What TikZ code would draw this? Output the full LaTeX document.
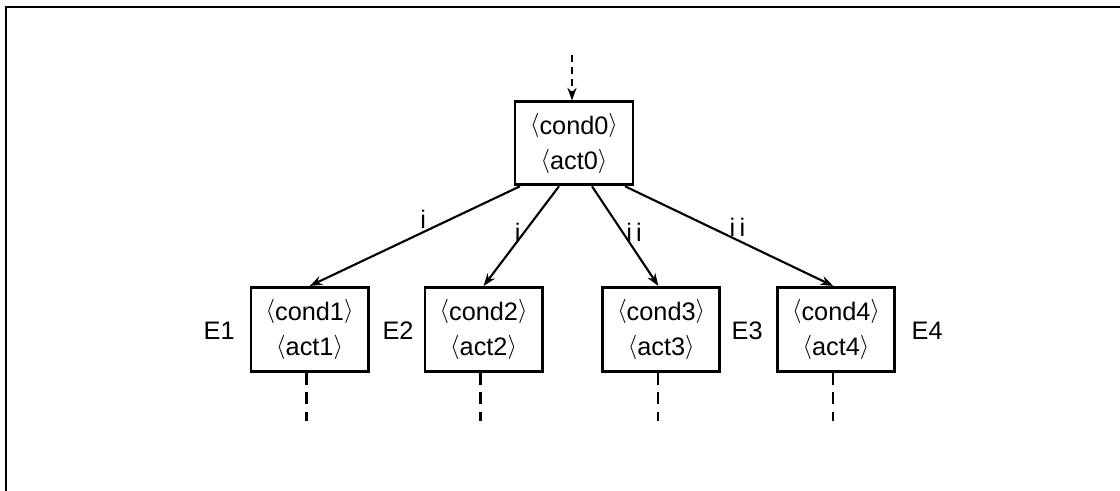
\documentclass[tikz,border=0pt]{standalone}
\usepackage{fontspec}
\setmainfont{Liberation Sans}
\usetikzlibrary{arrows.meta}
\newcommand{\ang}[1]{\raisebox{.1em}{$\langle$}#1\raisebox{.1em}{$\rangle$}}
\tikzset{
	rulebox/.style={draw,line width=2pt,minimum width=2.93cm,minimum height=2.1cm,
		align=center,font=\fontsize{18}{25}\selectfont,inner sep=0pt},
	branch/.style={line width=1.5pt,-{Stealth[length=9pt,width=6.5pt]}},
	lbl/.style={font=\fontsize{18}{20}\selectfont,inner sep=2pt},
	cont/.style={line width=1.6pt,dash pattern=on 8.5pt off 5.5pt}
}
\begin{document}
\begin{tikzpicture}
		\useasboundingbox (0,0) rectangle (28,12.275);
		\draw[line width=1.5pt] (0.15,0)--(0.15,12.1)--(28,12.1);
		\node[rulebox,minimum width=2.95cm,minimum height=2.075cm] (r0) at (14.35,8.69) {\ang{cond0}\\\ang{act0}};
		\foreach \i/\x in {1/7.74,2/12.09,3/16.53,4/20.9}{
			\node[rulebox] (r\i) at (\x,4.04) {\ang{cond\i}\\\ang{act\i}};
			\coordinate (b\i) at ([xshift=-0.08cm,yshift=-1.2cm]r\i.south);
			\draw[cont] ([xshift=-0.08cm]r\i.south)--(b\i);
		}
		\node[lbl] (e1) at (5.48,4.0) {E1};
		\node[lbl] (e2) at (9.95,4.0) {E2};
		\node[lbl] (e3) at (18.68,4.0) {E3};
		\node[lbl] (e4) at (23.18,4.0) {E4};
		% entry into the first rule
		\coordinate (in) at (14.3,10.9);
		\draw[line width=1.5pt,dash pattern=on 5pt off 3.5pt,-{Stealth[length=9pt,width=6.5pt]}] (in)--(in |- r0.north);
		% the four branches
		\draw[branch] ([xshift=-1.35cm]r0.south)--(r1.north) node[lbl,pos=0.46,above]{i};
		\draw[branch] ([xshift=-0.375cm]r0.south)--(r2.north) node[lbl,pos=0.46,left]{i};
		\draw[branch] ([xshift=0.45cm]r0.south)--([xshift=-0.07cm]r3.north) node[lbl,pos=0.46,right]{i\,i};
		\draw[branch] ([xshift=1.275cm]r0.south)--([xshift=-0.07cm]r4.north) node[lbl,pos=0.54,above]{i\,i};
	\end{tikzpicture}
\end{document}
